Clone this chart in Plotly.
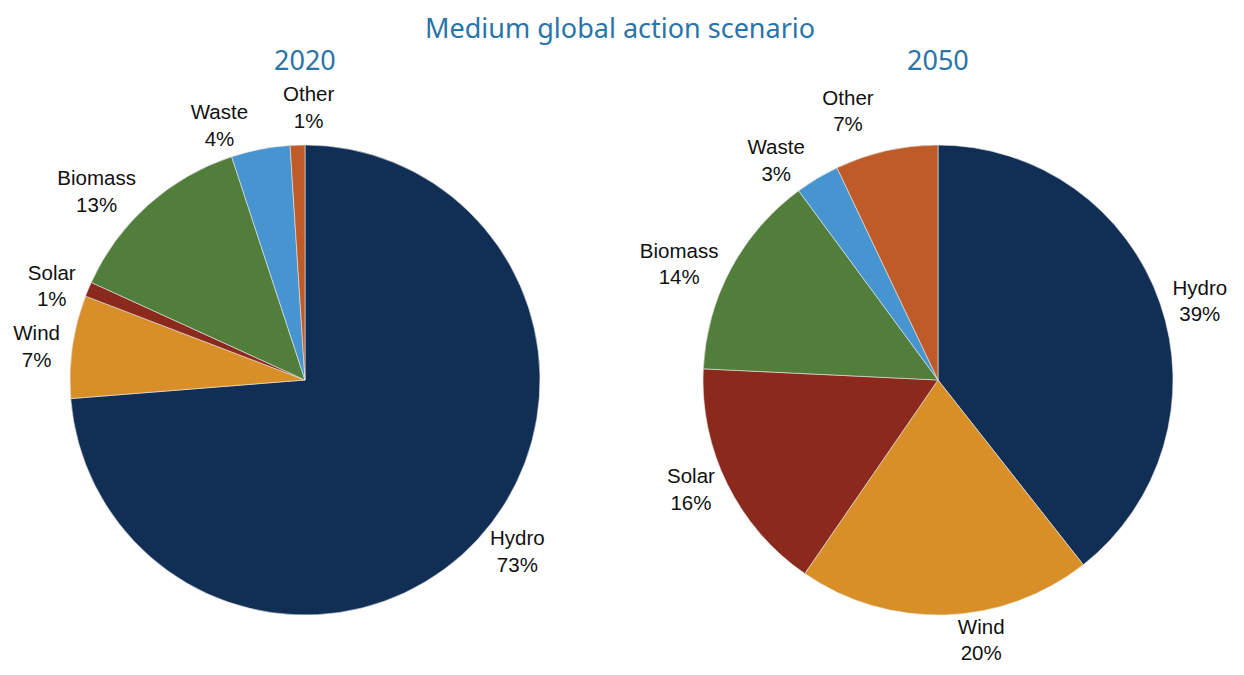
import plotly.graph_objects as go

labels = ["Hydro", "Wind", "Solar", "Biomass", "Waste", "Other"]
values_2020 = [73, 7, 1, 13, 4, 1]
values_2050 = [39, 20, 16, 14, 3, 7]
colors = ["#112F55", "#D98F27", "#8B2A1C", "#527E3B", "#4795D0", "#BE5B28"]

W, H = 1244, 675
OFF = 8  # page body margin


def dom(cx, cy, r):
    # pixel centre/radius (screen) -> paper domain
    cx, cy = cx - OFF, cy - OFF
    return dict(x=[(cx - r) / W, (cx + r) / W],
                y=[(H - cy - r) / H, (H - cy + r) / H])


label_font = dict(family="Liberation Sans, Arial, sans-serif", size=20.5, color="#111111")

fig = go.Figure()

# 2020: the tiny "Other" slice label is placed by hand (plotly pushes it into the subtitle)
pos_2020 = ["outside"] * 5 + ["none"]
for vals, d, pos in [(values_2020, dom(305, 380, 235), pos_2020),
                     (values_2050, dom(938, 380, 235), "outside")]:
    fig.add_pie(
        labels=labels,
        values=vals,
        sort=False,
        direction="clockwise",
        rotation=0,
        domain=d,
        marker=dict(colors=colors, line=dict(color="#e8e8e8", width=0.6)),
        texttemplate="%{label}<br>%{value}%",
        textposition=pos,
        textfont=label_font,
        showlegend=False,
        hoverinfo="label+value",
    )

fig.add_annotation(text=f"{labels[5]}<br>{values_2020[5]}%", x=(308 - OFF) / W, y=1 - (107 - OFF) / H,
                   xref="paper", yref="paper", showarrow=False, xanchor="center", yanchor="middle",
                   font=label_font)

title_font = dict(family="Noto Sans, DejaVu Sans, sans-serif", size=27, color="#2A74A8")
fig.add_annotation(text="Medium global action scenario", x=(619.5 - OFF) / W, y=1,
                   xref="paper", yref="paper", showarrow=False, xanchor="center", yanchor="top",
                   borderpad=0, font=title_font)
for txt, x, y in [("2020", 305, 60), ("2050", 938, 60)]:
    fig.add_annotation(text=txt, x=(x - OFF) / W, y=1 - (y - OFF) / H, xref="paper", yref="paper",
                       showarrow=False, xanchor="center", yanchor="middle", font=title_font)

fig.update_layout(
    width=W,
    height=H,
    margin=dict(l=0, r=0, t=0, b=0),
    paper_bgcolor="white",
    plot_bgcolor="white",
)

# the reference has no connector lines for the outside labels
hide_lines = "document.querySelectorAll('path.textline').forEach(function(p){p.style.display='none';});"
fig.write_html("out.html", post_script=hide_lines)
